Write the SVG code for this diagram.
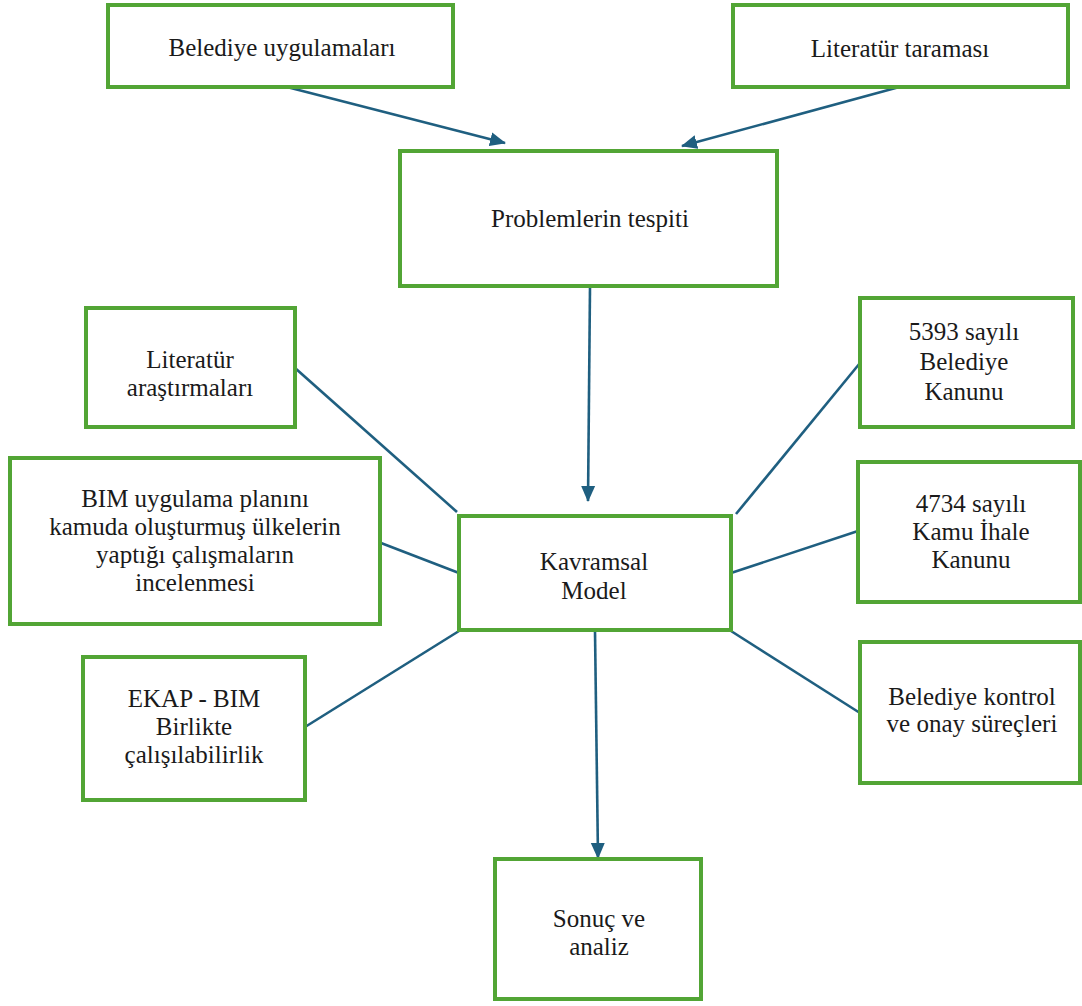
<svg xmlns="http://www.w3.org/2000/svg" width="1082" height="1006" viewBox="0 0 1082 1006">
<style>
.box{fill:#ffffff;stroke:#52A535;stroke-width:4}
.t{font-family:'Liberation Serif','DejaVu Serif',serif;font-size:25px;fill:#1a1a1a;text-anchor:middle}
.c{stroke:#1F5F80;stroke-width:2.6;fill:none}
</style>
<defs>
<marker id="ah" markerUnits="userSpaceOnUse" markerWidth="16" markerHeight="16" viewBox="0 0 16 16" refX="15" refY="8" orient="auto">
<path d="M0,1 L16,8 L0,15 Z" fill="#1F5F80"/>
</marker>
</defs>
<rect width="1082" height="1006" fill="#ffffff"/>
<g id="connectors">
<line class="c" x1="283" y1="86" x2="505" y2="143" marker-end="url(#ah)"/>
<line class="c" x1="903" y1="86" x2="682" y2="146" marker-end="url(#ah)"/>
<line class="c" x1="590" y1="287" x2="588" y2="501" marker-end="url(#ah)"/>
<line class="c" x1="595" y1="631" x2="598" y2="858" marker-end="url(#ah)"/>
<line class="c" x1="295" y1="368" x2="457" y2="512"/>
<line class="c" x1="381" y1="543" x2="459" y2="573"/>
<line class="c" x1="305" y1="727" x2="459" y2="631"/>
<line class="c" x1="736" y1="514" x2="860" y2="363"/>
<line class="c" x1="731" y1="573" x2="858" y2="531"/>
<line class="c" x1="731" y1="631" x2="860" y2="713"/>
</g>
<g id="n-belediye-uygulamalari">
<rect class="box" x="108" y="5" width="345" height="82"/>
<text class="t" x="282" y="56">Belediye uygulamaları</text>
</g>
<g id="n-literatur-taramasi">
<rect class="box" x="733" y="5" width="335" height="82"/>
<text class="t" x="900" y="57">Literatür taraması</text>
</g>
<g id="n-problemlerin-tespiti">
<rect class="box" x="400" y="151" width="377" height="135"/>
<text class="t" x="590" y="227">Problemlerin tespiti</text>
</g>
<g id="n-literatur-arastirmalari">
<rect class="box" x="86" y="308" width="209" height="119"/>
<text class="t" x="190" y="368">Literatür</text>
<text class="t" x="190" y="396">araştırmaları</text>
</g>
<g id="n-bim">
<rect class="box" x="10" y="458" width="370" height="166"/>
<text class="t" x="195" y="507">BIM uygulama planını</text>
<text class="t" x="195" y="535">kamuda oluşturmuş ülkelerin</text>
<text class="t" x="195" y="563">yaptığı çalışmaların</text>
<text class="t" x="195" y="591">incelenmesi</text>
</g>
<g id="n-ekap">
<rect class="box" x="83" y="657" width="222" height="143"/>
<text class="t" x="194" y="707">EKAP - BIM</text>
<text class="t" x="194" y="735">Birlikte</text>
<text class="t" x="194" y="763">çalışılabilirlik</text>
</g>
<g id="n-kavramsal-model">
<rect class="box" x="459" y="516" width="272" height="114"/>
<text class="t" x="594" y="570">Kavramsal</text>
<text class="t" x="594" y="599">Model</text>
</g>
<g id="n-5393">
<rect class="box" x="860" y="298" width="213" height="129"/>
<text class="t" x="964" y="340">5393 sayılı</text>
<text class="t" x="964" y="370">Belediye</text>
<text class="t" x="964" y="400">Kanunu</text>
</g>
<g id="n-4734">
<rect class="box" x="858" y="462" width="222" height="140"/>
<text class="t" x="971" y="512">4734 sayılı</text>
<text class="t" x="971" y="540">Kamu İhale</text>
<text class="t" x="971" y="568">Kanunu</text>
</g>
<g id="n-belediye-kontrol">
<rect class="box" x="860" y="642" width="220" height="141"/>
<text class="t" x="972" y="705">Belediye kontrol</text>
<text class="t" x="972" y="732">ve onay süreçleri</text>
</g>
<g id="n-sonuc">
<rect class="box" x="495" y="859" width="206" height="140"/>
<text class="t" x="599" y="927">Sonuç ve</text>
<text class="t" x="599" y="955">analiz</text>
</g>
</svg>
